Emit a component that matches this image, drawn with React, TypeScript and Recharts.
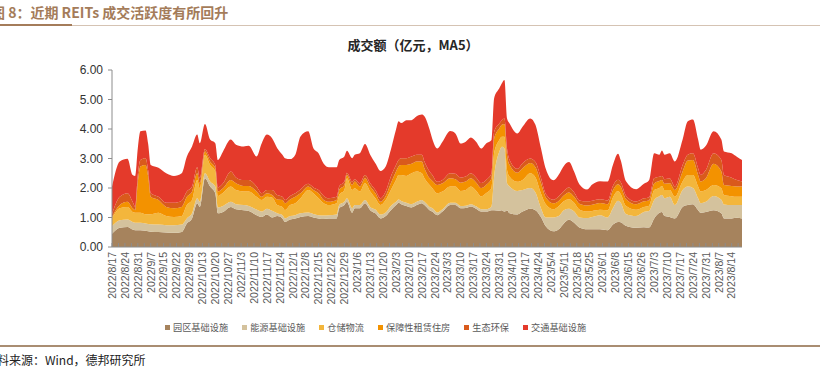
import { AreaChart, Area, XAxis, YAxis } from "recharts";

// trading-day index (0 = 2022/8/17), values are MA5 turnover in 100m yuan
const days = [
  0, 3, 6, 8, 9, 10, 11, 13, 14, 15,
  18, 21, 24, 27, 29, 31, 33, 34, 36, 38,
  40, 41, 43, 46, 48, 51, 53, 56, 58, 60,
  62, 64, 66, 67, 69, 71, 73, 76, 78, 80,
  82, 84, 87, 88, 90, 91, 93, 94, 96, 98,
  100, 102, 104, 106, 108, 110, 111, 112, 114, 116,
  118, 120, 121, 123, 124, 126, 128, 131, 133, 135,
  137, 139, 141, 143, 145, 147, 148, 150, 151, 152,
  153, 154, 157, 159, 162, 164, 166, 168, 171, 173,
  175, 177, 179, 181, 184, 186, 189, 192, 194, 196,
  197, 199, 203, 206, 208, 210, 212, 213, 214, 216,
  218, 221, 223, 225, 227, 228, 230, 233, 236, 237,
  240, 242, 244,
];

const parkInfra = [
  0.45, 0.65, 0.68, 0.59, 0.57, 0.57, 0.57, 0.55, 0.53, 0.52,
  0.51, 0.49, 0.48, 0.51, 0.8, 0.97, 1.48, 1.36, 2.33, 2.05,
  1.82, 1.14, 1.19, 1.36, 1.28, 1.25, 1.22, 1.08, 1.02, 1.1,
  1.0, 1.05, 0.97, 0.85, 0.93, 0.97, 1.02, 1.05, 1.0, 0.97,
  0.95, 0.97, 0.97, 1.31, 1.42, 1.53, 1.16, 1.31, 1.31, 1.48,
  1.25, 1.14, 0.97, 1.05, 1.25, 1.42, 1.5, 1.45, 1.39, 1.34,
  1.42, 1.48, 1.42, 1.25, 1.2, 1.08, 1.2, 1.42, 1.42, 1.31,
  1.32, 1.37, 1.3, 1.2, 1.2, 1.25, 1.25, 1.23, 1.25, 1.2,
  1.25, 1.14, 1.1, 1.2, 1.3, 1.25, 1.03, 0.7, 0.53, 0.6,
  0.8, 0.92, 0.82, 0.66, 0.6, 0.6, 0.6, 0.57, 0.76, 0.85,
  0.84, 0.72, 0.65, 0.67, 0.66, 0.97, 1.16, 1.19, 1.05, 1.02,
  0.97, 1.36, 1.42, 1.45, 1.25, 1.16, 1.19, 1.25, 1.14, 0.97,
  0.97, 0.99, 0.97,
];

const energyInfra = [
  0.25, 0.26, 0.25, 0.26, 0.25, 0.25, 0.25, 0.25, 0.25, 0.25,
  0.25, 0.25, 0.26, 0.25, 0.17, 0.17, 0.17, 0.17, 0.17, 0.17,
  0.23, 0.2, 0.2, 0.17, 0.17, 0.17, 0.17, 0.19, 0.18, 0.2,
  0.23, 0.09, 0.11, 0.12, 0.12, 0.11, 0.12, 0.12, 0.12, 0.11,
  0.12, 0.11, 0.13, 0.11, 0.11, 0.12, 0.15, 0.11, 0.11, 0.11,
  0.11, 0.13, 0.13, 0.12, 0.14, 0.11, 0.11, 0.11, 0.11, 0.11,
  0.11, 0.11, 0.11, 0.11, 0.12, 0.09, 0.08, 0.08, 0.08, 0.08,
  0.08, 0.08, 0.08, 0.08, 0.08, 0.12, 1.13, 2.0, 2.15, 2.14,
  0.91, 0.91, 0.8, 0.73, 0.7, 0.6, 0.32, 0.3, 0.47, 0.45,
  0.45, 0.38, 0.38, 0.34, 0.38, 0.42, 0.48, 0.43, 0.55, 0.72,
  0.66, 0.4, 0.4, 0.52, 0.56, 0.62, 0.56, 0.57, 0.6, 0.68,
  0.45, 0.57, 0.63, 0.55, 0.4, 0.32, 0.34, 0.48, 0.46, 0.47,
  0.45, 0.43, 0.45,
];

const logistics = [
  0.27, 0.4, 0.43, 0.34, 0.34, 0.34, 0.34, 0.31, 0.33, 0.34,
  0.4, 0.31, 0.28, 0.29, 0.45, 0.45, 0.62, 0.46, 0.63, 0.56,
  0.51, 0.39, 0.45, 0.52, 0.48, 0.46, 0.49, 0.43, 0.39, 0.4,
  0.45, 0.28, 0.28, 0.28, 0.37, 0.4, 0.51, 0.76, 0.7, 0.57,
  0.41, 0.34, 0.38, 0.34, 0.4, 0.68, 0.62, 0.57, 0.46, 0.57,
  0.52, 0.38, 0.32, 0.42, 0.54, 0.74, 0.83, 0.88, 0.91, 1.05,
  1.03, 0.91, 0.8, 0.74, 0.68, 0.65, 0.6, 0.55, 0.55, 0.51,
  0.53, 0.6, 0.53, 0.44, 0.55, 0.63, 0.8, 0.4, 0.34, 0.4,
  0.45, 0.33, 0.31, 0.34, 0.5, 0.51, 0.5, 0.45, 0.28, 0.33,
  0.3, 0.32, 0.3, 0.27, 0.22, 0.2, 0.18, 0.25, 0.37, 0.33,
  0.3, 0.28, 0.21, 0.17, 0.18, 0.34, 0.28, 0.31, 0.28, 0.23,
  0.28, 0.29, 0.39, 0.44, 0.4, 0.4, 0.4, 0.37, 0.39, 0.32,
  0.3, 0.28, 0.28,
];

const rentalHousing = [
  0.05, 0.11, 0.17, 0.12, 0.09, 1.04, 1.57, 1.67, 1.29, 0.59,
  0.43, 0.31, 0.29, 0.31, 0.28, 0.29, 0.23, 0.17, 0.11, 0.12,
  0.11, 0.15, 0.15, 0.22, 0.23, 0.19, 0.19, 0.18, 0.11, 0.12,
  0.08, 0.19, 0.23, 0.23, 0.19, 0.22, 0.17, 0.12, 0.11, 0.17,
  0.11, 0.11, 0.11, 0.17, 0.17, 0.11, 0.17, 0.23, 0.17, 0.17,
  0.17, 0.17, 0.11, 0.14, 0.23, 0.29, 0.29, 0.34, 0.37, 0.32,
  0.34, 0.4, 0.34, 0.23, 0.25, 0.28, 0.28, 0.28, 0.25, 0.28,
  0.29, 0.28, 0.28, 0.28, 0.28, 0.33, 0.5, 0.39, 0.4, 0.43,
  0.51, 0.4, 0.31, 0.4, 0.35, 0.34, 0.35, 0.23, 0.2, 0.18,
  0.2, 0.23, 0.2, 0.2, 0.21, 0.21, 0.23, 0.2, 0.24, 0.23,
  0.25, 0.23, 0.19, 0.19, 0.18, 0.23, 0.24, 0.2, 0.21, 0.23,
  0.23, 0.34, 0.49, 0.51, 0.39, 0.34, 0.4, 0.72, 0.57, 0.34,
  0.35, 0.35, 0.35,
];

const ecoProtection = [
  0.1, 0.28, 0.29, 0.22, 0.11, 0.25, 0.22, 0.23, 0.2, 0.12,
  0.11, 0.14, 0.19, 0.21, 0.18, 0.17, 0.2, 0.17, 0.08, 0.11,
  0.11, 0.14, 0.17, 0.29, 0.2, 0.2, 0.2, 0.17, 0.12, 0.11,
  0.17, 0.15, 0.11, 0.11, 0.12, 0.12, 0.13, 0.09, 0.09, 0.11,
  0.14, 0.12, 0.11, 0.12, 0.12, 0.08, 0.12, 0.08, 0.11, 0.11,
  0.11, 0.11, 0.12, 0.15, 0.23, 0.22, 0.22, 0.23, 0.23, 0.25,
  0.23, 0.23, 0.23, 0.23, 0.2, 0.11, 0.11, 0.17, 0.18, 0.17,
  0.17, 0.17, 0.17, 0.17, 0.17, 0.17, 0.23, 0.17, 0.16, 0.19,
  0.22, 0.17, 0.13, 0.17, 0.15, 0.18, 0.18, 0.12, 0.12, 0.16,
  0.15, 0.17, 0.15, 0.11, 0.14, 0.14, 0.13, 0.13, 0.15, 0.15,
  0.15, 0.12, 0.09, 0.1, 0.1, 0.17, 0.14, 0.14, 0.16, 0.16,
  0.12, 0.22, 0.2, 0.23, 0.23, 0.22, 0.28, 0.36, 0.39, 0.34,
  0.28, 0.22, 0.17,
];

const transportInfra = [
  0.93, 1.2, 1.17, 0.91, 1.05, 0.9, 0.97, 0.94, 0.9, 0.96,
  0.99, 1.0, 0.91, 0.93, 1.19, 1.36, 1.11, 1.19, 0.85, 0.63,
  0.74, 0.93, 1.08, 1.08, 1.11, 1.14, 1.16, 1.02, 1.7, 1.88,
  1.76, 1.59, 1.43, 1.42, 1.25, 1.31, 1.8, 1.78, 1.33, 1.25,
  1.09, 1.05, 1.0, 0.9, 0.85, 0.74, 0.79, 0.83, 1.02, 1.05,
  0.97, 0.91, 0.93, 0.85, 0.91, 1.2, 1.31, 1.19, 1.29, 1.23,
  1.3, 1.36, 1.53, 1.42, 1.23, 1.13, 1.3, 1.43, 1.37, 1.16,
  1.18, 1.21, 1.21, 1.17, 1.24, 1.13, 1.13, 1.19, 1.25, 1.3,
  1.02, 1.24, 1.2, 1.24, 1.36, 1.26, 1.02, 0.85, 0.66, 0.73,
  0.85, 0.86, 0.7, 0.55, 0.4, 0.55, 0.61, 0.64, 0.71, 0.88,
  0.75, 0.49, 0.42, 0.49, 0.58, 0.85, 0.75, 0.86, 0.83, 0.86,
  0.85, 0.86, 1.13, 1.14, 0.97, 0.86, 0.82, 0.74, 0.69, 0.8,
  0.83, 0.79, 0.73,
];

// one label every 5 trading days
const dateLabels = [
  "2022/8/17", "2022/8/24", "2022/8/31", "2022/9/7", "2022/9/15", "2022/9/22", "2022/9/29",
  "2022/10/13", "2022/10/20", "2022/10/27", "2022/11/3", "2022/11/10", "2022/11/17", "2022/11/24",
  "2022/12/1", "2022/12/8", "2022/12/15", "2022/12/22", "2022/12/29", "2023/1/6", "2023/1/13",
  "2023/1/20", "2023/2/3", "2023/2/10", "2023/2/17", "2023/2/24", "2023/3/3", "2023/3/10",
  "2023/3/17", "2023/3/24", "2023/3/31", "2023/4/10", "2023/4/17", "2023/4/24", "2023/5/4",
  "2023/5/11", "2023/5/18", "2023/5/25", "2023/6/1", "2023/6/8", "2023/6/15", "2023/6/26",
  "2023/7/3", "2023/7/10", "2023/7/17", "2023/7/24", "2023/7/31", "2023/8/7", "2023/8/14",
];

const yTicks = [0, 1, 2, 3, 4, 5, 6];

const series = [
  { key: "park", name: "园区基础设施", color: "#A6835D", values: parkInfra },
  { key: "energy", name: "能源基础设施", color: "#D4C29D", values: energyInfra },
  { key: "logistics", name: "仓储物流", color: "#F3B63C", values: logistics },
  { key: "housing", name: "保障性租赁住房", color: "#F39200", values: rentalHousing },
  { key: "eco", name: "生态环保", color: "#D95A1C", values: ecoProtection },
  { key: "transport", name: "交通基础设施", color: "#E43A2B", values: transportInfra },
];

const rows = days.map((d, i) => {
  const row: Record<string, number> = { day: d };
  series.forEach((s) => (row[s.key] = s.values[i]));
  return row;
});

// ticks every 2.5 days, labels on every other one
const xTicks = Array.from({ length: dateLabels.length * 2 }, (_, i) => i * 2.5);

const XTick = (props: any) => {
  const { x, y, payload } = props;
  const v = payload.value;
  const label = v % 5 === 0 ? dateLabels[v / 5] : "";
  return (
    <g>
      <line x1={x} x2={x} y1={y} y2={y - 4} stroke="#8c8c8c" />
      {label && (
        <text
          transform={`translate(${x + 3.8},${y + 5}) rotate(-90)`}
          textAnchor="end"
          fontSize={10.5}
          fill="#595959"
          fontFamily="'Liberation Sans', Arial, sans-serif"
        >
          {label}
        </text>
      )}
    </g>
  );
};

const cjk = "'Noto Sans CJK SC', 'Liberation Sans', sans-serif";

export default function App() {
  return (
    <div
      style={{
        position: "absolute",
        left: 0,
        top: 0,
        width: 820,
        height: 368,
        background: "#fff",
        overflow: "hidden",
        fontFamily: cjk,
      }}
    >
      <div
        style={{
          position: "absolute",
          left: -9,
          top: 3,
          fontSize: 14,
          fontWeight: 700,
          color: "#A47C5A",
          whiteSpace: "nowrap",
          lineHeight: "18px",
        }}
      >
        图 8：近期 REITs 成交活跃度有所回升
      </div>
      <div style={{ position: "absolute", left: 0, top: 25, width: 820, height: 1, background: "#D5C3B3" }} />
      <div style={{ position: "absolute", left: 0, top: 24, width: 72, height: 2, background: "#A47C5A" }} />

      <div
        style={{
          position: "absolute",
          left: 0,
          top: 36,
          width: 826,
          textAlign: "center",
          fontSize: 13,
          fontWeight: 700,
          color: "#262626",
          lineHeight: "18px",
        }}
      >
        成交额（亿元，MA5）
      </div>

      <div style={{ position: "absolute", left: 0, top: 0 }}>
        <AreaChart
          width={820}
          height={368}
          data={rows}
          margin={{ top: 70, right: 78, bottom: 61, left: 52 }}
        >
          <XAxis
            dataKey="day"
            type="number"
            domain={[0, 244]}
            ticks={xTicks}
            interval={0}
            height={60}
            tickSize={0}
            tickMargin={0}
            tickLine={false}
            axisLine={{ stroke: "#8c8c8c" }}
            tick={<XTick />}
          />
          <YAxis
            width={60}
            domain={[0, 6]}
            ticks={yTicks}
            interval={0}
            tickSize={4}
            tickMargin={5}
            axisLine={{ stroke: "#8c8c8c" }}
            tickLine={{ stroke: "#8c8c8c" }}
            tickFormatter={(v: number) => v.toFixed(2)}
            tick={{ fontSize: 12, fill: "#333", fontFamily: "'Liberation Sans', Arial, sans-serif" }}
          />
          {series.map((s) => (
            <Area
              key={s.key}
              dataKey={s.key}
              name={s.name}
              stackId="1"
              type="monotone"
              stroke="none"
              fill={s.color}
              fillOpacity={1}
              isAnimationActive={false}
            />
          ))}
        </AreaChart>
      </div>

      <div
        style={{
          position: "absolute",
          left: 165,
          top: 320,
          display: "flex",
          gap: 14,
          fontSize: 9.2,
          color: "#595959",
          lineHeight: "14px",
          whiteSpace: "nowrap",
        }}
      >
        {series.map((s) => (
          <div key={s.key} style={{ display: "flex", alignItems: "center", gap: 3 }}>
            <span style={{ width: 5, height: 5, background: s.color, display: "inline-block" }} />
            <span>{s.name}</span>
          </div>
        ))}
      </div>

      <div style={{ position: "absolute", left: 0, top: 345, width: 820, height: 2, background: "#A98D72" }} />
      <div
        style={{
          position: "absolute",
          left: -15,
          top: 352,
          fontSize: 12,
          color: "#222",
          whiteSpace: "nowrap",
          lineHeight: "16px",
        }}
      >
        资料来源：Wind，德邦研究所
      </div>
    </div>
  );
}
